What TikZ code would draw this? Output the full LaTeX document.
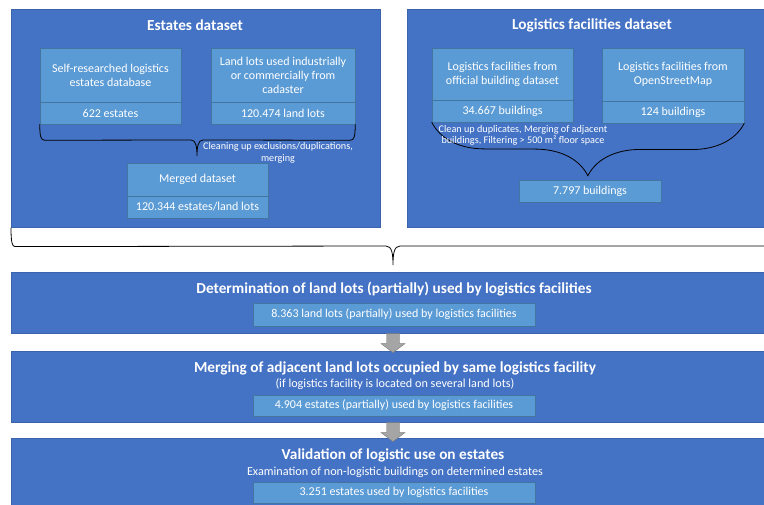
\documentclass[tikz,border=0pt]{standalone}
\usepackage{fontspec}
\setmainfont{Carlito}
\usetikzlibrary{arrows.meta,calc,decorations.pathreplacing}
\definecolor{band}{HTML}{4472C4}
\definecolor{cell}{HTML}{5B9BD5}
\definecolor{edge}{HTML}{3B64AD}
\definecolor{shade}{HTML}{A5A5A5}

\begin{document}
\begin{tikzpicture}[x=1pt,y=-1pt,text=white,
  panel/.style={fill=band,draw=edge,line width=0.6pt,anchor=north west,inner sep=0pt},
  box/.style={fill=cell,draw=cell!75!black,line width=0.5pt,align=center,inner sep=1pt,
    font=\fontsize{12}{14}\selectfont},
  tag/.style={box,font=\fontsize{12}{14}\selectfont},
  head/.style={font=\bfseries\fontsize{15.3}{18}\selectfont},
  sub/.style={font=\fontsize{12.2}{14}\selectfont},
  note/.style={align=center,font=\fontsize{10.2}{11.5}\selectfont},
  curly/.style={draw=black,line width=0.8pt},
  blockarrow/.style={fill=shade,draw=shade!75!black,line width=0.4pt}]
  \useasboundingbox (0,0) rectangle (764,505);

  % dataset panels
  \node[panel,minimum width=369,minimum height=218] (estates) at (11,9) {};
  \node[panel,minimum width=357,minimum height=218] (facilities) at (407,9) {};
  \node[head] at (195,25) {Estates dataset};
  \node[head] at (592,25) {Logistics facilities dataset};

  \node[box,minimum width=141,minimum height=54] (selfdb) at (110.5,75) {Self-researched logistics\\estates database};
  \node[box,minimum width=141,minimum height=22] (selfcnt) at (110.5,113) {622 estates};
  \node[box,minimum width=144,minimum height=54] (landdb) at (283,75) {Land lots used industrially\\or commercially from\\cadaster};
  \node[box,minimum width=144,minimum height=22] (landcnt) at (283,113) {120.474 land lots};
  \node[box,minimum width=141,minimum height=33] (merged) at (197.5,179.5) {Merged dataset};
  \node[box,minimum width=141,minimum height=22] (mergedcnt) at (197.5,207) {120.344 estates/land lots};

  \node[box,minimum width=141,minimum height=52] (officialdb) at (502.5,74) {Logistics facilities from\\official building dataset};
  \node[box,minimum width=141,minimum height=22] (officialcnt) at (502.5,111) {34.667 buildings};
  \node[box,minimum width=142,minimum height=53] (osmdb) at (673,74.5) {Logistics facilities from\\OpenStreetMap};
  \node[box,minimum width=142,minimum height=22] (osmcnt) at (673,112) {124 buildings};
  \node[box,minimum width=142,minimum height=22] (bldcnt) at (590,191) {7.797 buildings};

  % braces
  \coordinate (cleantip) at (197,156);
  \draw[curly] (selfcnt.south west) .. controls +(0,12) and +(-4,0) .. ++(5,16)
    -- ($(cleantip)+(-6,-16)$) .. controls +(5,0) and +(0,-9) .. (cleantip)
    .. controls +(0,-9) and +(-5,0) .. ($(cleantip)+(6,-16)$)
    -- ($(landcnt.south east)+(-5,16)$) .. controls +(4,0) and +(0,12) .. (landcnt.south east);
  \node[note] (cleanlbl) at (278,153) {Cleaning up exclusions/duplications,\\merging};
  \draw[curly,decorate,decoration={brace,mirror,amplitude=53pt,aspect=0.5}] (officialcnt.south west) -- (osmcnt.south east);
  \node[note] (filterlbl) at (523,135.5) {Clean up duplicates, Merging of adjacent\\buildings, Filtering > 500 m² floor space};

  % both datasets feed the processing steps
  \coordinate (bigtip) at (393,265);
  \coordinate (bigend) at (775,246);
  \draw[curly] (estates.south west) .. controls +(0,14) and +(-3,0) .. ++(4,19)
    -- ($(bigtip)+(-7,-19)$) .. controls +(6,0) and +(0,-11) .. (bigtip)
    .. controls +(0,-11) and +(-6,0) .. ($(bigtip)+(7,-19)$) -- (bigend);

  % processing steps
  \node[panel,minimum width=755,minimum height=61] (step1) at (11,272) {};
  \node[panel,minimum width=755,minimum height=71] (step2) at (11,351) {};
  \node[panel,minimum width=755,minimum height=72] (step3) at (11,438) {};
  \coordinate (mid) at (393,0);

  \node[head] at (394,289) {Determination of land lots (partially) used by logistics facilities};
  \node[tag,minimum width=282,minimum height=23] (lots) at (394,314.5) {8.363 land lots (partially) used by logistics facilities};

  \node[head] at (395,368) {Merging of adjacent land lots occupied by same logistics facility};
  \node[sub] at (395,384) {(if logistics facility is located on several land lots)};
  \node[tag,minimum width=282,minimum height=21] (mergedlots) at (394,405.5) {4.904 estates (partially) used by logistics facilities};

  \node[head] at (393,455) {Validation of logistic use on estates};
  \node[sub] at (395,472) {Examination of non-logistic buildings on determined estates};
  \node[tag,minimum width=282,minimum height=21] (valid) at (394,492.5) {3.251 estates used by logistics facilities};

  \filldraw[blockarrow] (step1.south -| mid) ++(-6.5,0) -- ++(13,0) -- ++(0,10) -- ++(5.5,0) -- ++(-12,9) -- ++(-12,-9) -- ++(5.5,0) -- cycle;
  \filldraw[blockarrow] (step2.south -| mid) ++(-6.5,0) -- ++(13,0) -- ++(0,10) -- ++(5.5,0) -- ++(-12,9) -- ++(-12,-9) -- ++(5.5,0) -- cycle;
\end{tikzpicture}
\end{document}
